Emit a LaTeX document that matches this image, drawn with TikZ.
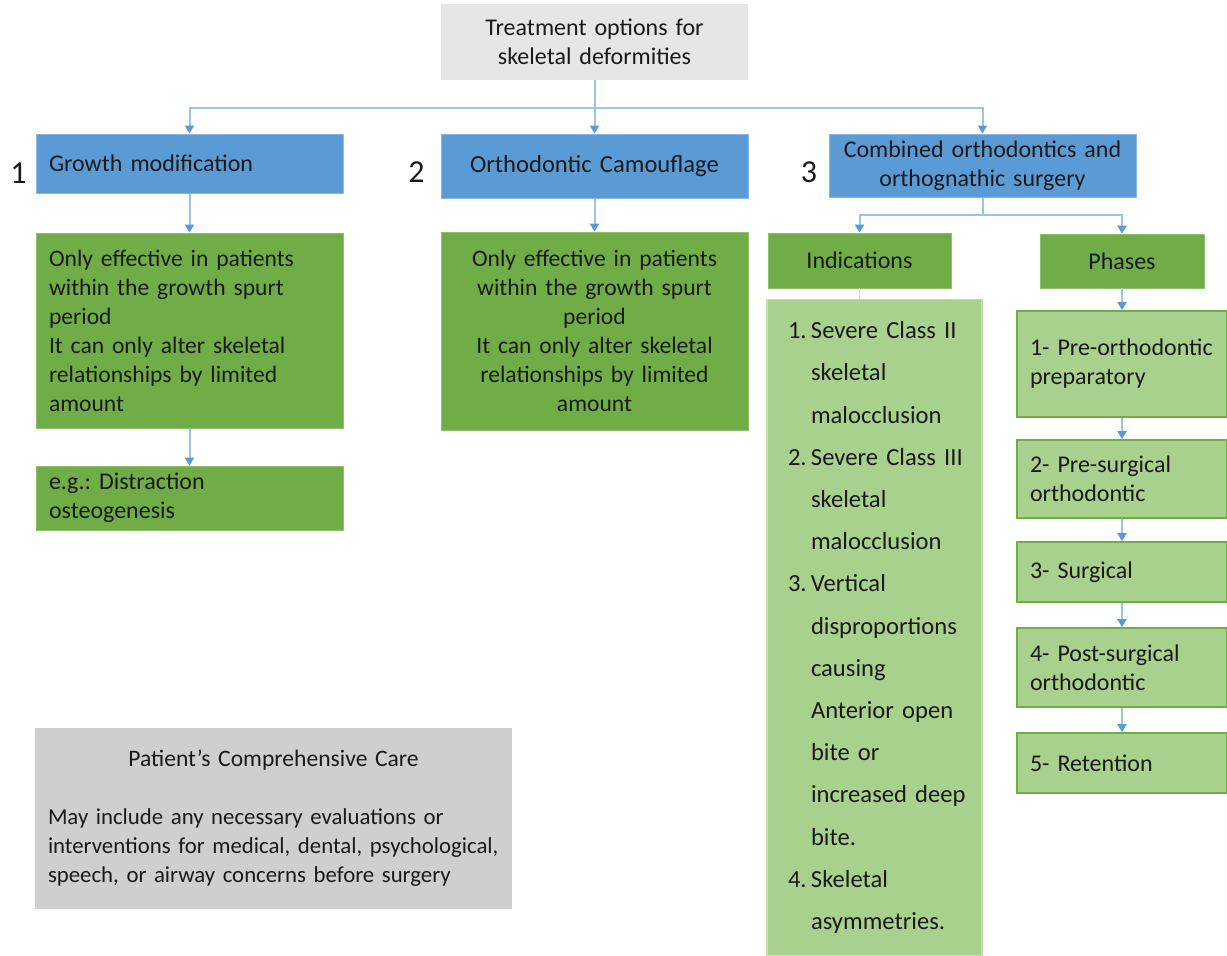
\documentclass[tikz,border=0pt]{standalone}
\usepackage{fontspec}
\setmainfont{Carlito}
\usetikzlibrary{arrows.meta}
\definecolor{blu}{HTML}{5B9BD5}
\definecolor{bluedge}{HTML}{8DB8E4}
\definecolor{grn}{HTML}{70AD47}
\definecolor{grnedge}{HTML}{8DBF6C}
\definecolor{lgrn}{HTML}{A9D18E}
\definecolor{lgrnedge}{HTML}{C2DFAE}
\definecolor{gtop}{HTML}{E7E6E6}
\definecolor{gbot}{HTML}{D0CECE}
\definecolor{conn}{HTML}{9DC3E6}
\definecolor{txt}{HTML}{1A1A1A}
\newcommand{\Litem}[2]{\mbox{\makebox[11.5pt][l]{#1}#2}}
\newcommand{\Lhang}[1]{\mbox{\hspace*{11.5pt}#1}}
\begin{document}
\frenchspacing
\begin{tikzpicture}[x=0.5pt,y=-0.5pt,
  base/.style={inner ysep=0pt, font=\fontsize{12pt}{14.5pt}\selectfont, text=txt},
  bluebox/.style={base, fill=blu, draw=bluedge, line width=0.5pt},
  grnbox/.style={base, fill=grn, draw=grnedge, line width=0.4pt},
  listbox/.style={base, fill=lgrn, draw=lgrnedge, line width=0.6pt},
  phasebox/.style={base, fill=lgrn, draw=grn, line width=0.9pt, inner xsep=6.5pt, text width=92pt, align=left},
  numlab/.style={font=\fontsize{16pt}{18pt}\selectfont, text=txt, inner sep=0pt},
  conline/.style={draw=conn, line width=1pt},
  arr/.style={conline, -{Triangle[width=4.5pt,length=4pt,color=blu]}},
  faint/.style={draw=conn!50, line width=0.8pt}]
\useasboundingbox (0,0) rectangle (1227,955);

% top
\node[base, fill=gtop, inner xsep=6pt, text width=141.5pt, align=center, minimum height=38pt] (top) at (594.5,42) {Treatment options for\\ skeletal deformities};

% level 1
\node[bluebox, inner xsep=6.5pt, text width=140.5pt, align=left, minimum height=29.5pt] (b1) at (189.5,163.5) {Growth modification};
\node[bluebox, inner xsep=6pt, text width=141.5pt, align=center, minimum height=32pt, font=\fontsize{12.3pt}{14.5pt}\selectfont] (b2) at (594.5,166) {Orthodontic Camouflage};
\node[bluebox, inner xsep=6pt, text width=141.5pt, align=center, minimum height=31.5pt] (b3) at (982.5,165.5) {Combined orthodontics and\\ orthognathic surgery};

\node[numlab] (n1) at (18.5,173.5) {1};
\node[numlab] (n2) at (416.5,172.5) {2};
\node[numlab] (n3) at (809,172) {3};

% column 1
\node[grnbox, inner xsep=6.5pt, text width=140.5pt, align=left, minimum height=97.5pt, font=\fontsize{11.8pt}{14.5pt}\selectfont] (g1) at (189.5,330.5) {\mbox{Only effective in patients}\\ within the growth spurt\\ period\\ \mbox{It can only alter skeletal}\\ relationships by limited\\ amount};
\node[grnbox, inner xsep=6.5pt, text width=140.5pt, align=left, minimum height=32pt] (eg) at (189.5,498) {e.g.: Distraction\\ osteogenesis};

% column 2
\node[grnbox, inner xsep=6pt, text width=141.5pt, align=center, minimum height=99pt, font=\fontsize{11.8pt}{14.5pt}\selectfont] (g2) at (594.5,331) {\mbox{Only effective in patients}\\ within the growth spurt\\ period\\ \mbox{It can only alter skeletal}\\ relationships by limited\\ amount};

% column 3
\node[grnbox, inner xsep=4pt, text width=83.5pt, align=center, minimum height=27.5pt] (ind) at (859.5,260.5) {Indications};
\node[grnbox, inner xsep=4pt, text width=74pt, align=center, minimum height=27pt] (pha) at (1122,261) {Phases};

\node[listbox, inner xsep=10.5pt, text width=86.5pt, align=left, minimum height=328pt, font=\fontsize{12.3pt}{21.1pt}\selectfont] (list) at (874.5,627.5) {%
\Litem{1.}{Severe Class II}\\
\Lhang{skeletal}\\
\Lhang{malocclusion}\\
\Litem{2.}{Severe Class III}\\
\Lhang{skeletal}\\
\Lhang{malocclusion}\\
\Litem{3.}{Vertical}\\
\Lhang{disproportions}\\
\Lhang{causing}\\
\Lhang{Anterior open}\\
\Lhang{bite or}\\
\Lhang{increased deep}\\
\Lhang{bite.}\\
\Litem{4.}{Skeletal}\\
\Lhang{asymmetries.}};

\node[phasebox, minimum height=53pt] (p1) at (1122,364) {1- Pre-orthodontic\\ preparatory};
\node[phasebox, minimum height=39pt] (p2) at (1122,479) {2- Pre-surgical\\ orthodontic};
\node[phasebox, minimum height=30pt] (p3) at (1122,572) {3- Surgical};
\node[phasebox, minimum height=39.5pt] (p4) at (1122,667.5) {4- Post-surgical\\ orthodontic};
\node[phasebox, minimum height=30pt] (p5) at (1122,763) {5- Retention};

% comprehensive care
\node[base, fill=gbot, inner xsep=6.5pt, text width=225.5pt, align=left, minimum height=90.5pt, font=\fontsize{11.4pt}{14.5pt}\selectfont] (care) at (273.5,818.5) {\makebox[\linewidth][c]{\fontsize{11.8pt}{14.5pt}\selectfont Patient’s Comprehensive Care}\\[14.5pt]
\mbox{May include any necessary evaluations or}\\
\mbox{interventions for medical, dental, psychological,}\\
\mbox{speech, or airway concerns before surgery}};

% connectors
\coordinate (j0) at (594.5,108);
\coordinate (j1) at (982.5,215);
\draw[conline] (top.south) -- (j0);
\draw[arr] (j0) -| (b1.north);
\draw[arr] (j0) -- (b2.north);
\draw[arr] (j0) -| (b3.north);
\draw[arr] (b1.south) -- (g1.north);
\draw[arr] (g1.south) -- (eg.north);
\draw[arr] (b2.south) -- (g2.north);
\draw[conline] (b3.south) -- (j1);
\draw[arr] (j1) -| (ind.north);
\draw[arr] (j1) -| (pha.north);
\draw[faint] (ind.south) -- (ind.south |- list.north);
\draw[arr] (pha.south) -- (p1.north);
\draw[arr] (p1.south) -- (p2.north);
\draw[arr] (p2.south) -- (p3.north);
\draw[arr] (p3.south) -- (p4.north);
\draw[arr] (p4.south) -- (p5.north);
\end{tikzpicture}
\end{document}
